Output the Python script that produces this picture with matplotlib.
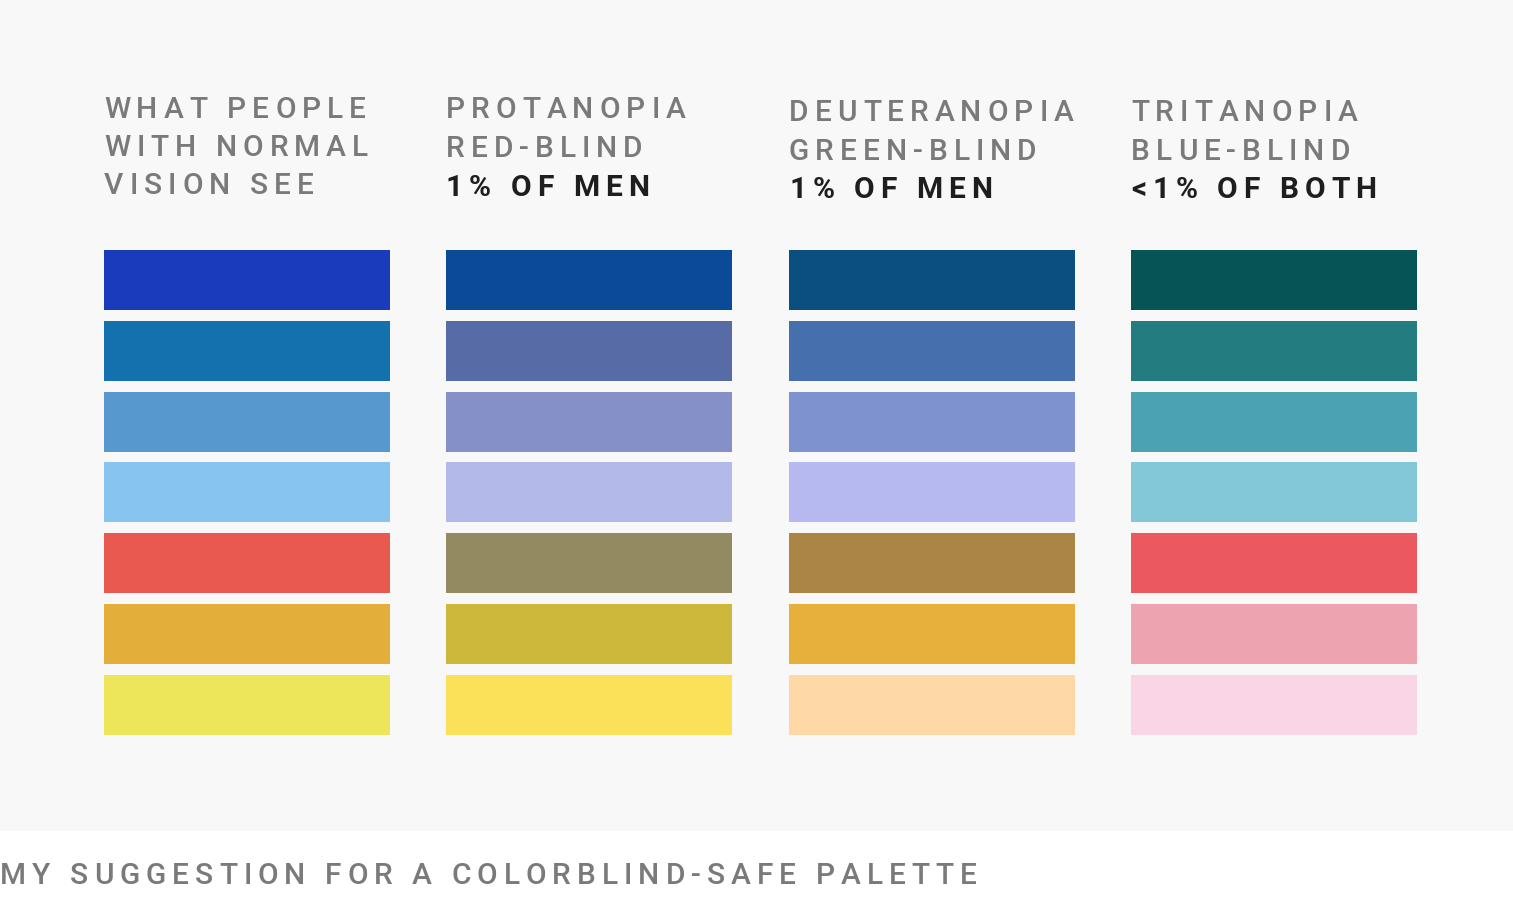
import matplotlib
matplotlib.use("Agg")
import matplotlib.pyplot as plt
from matplotlib.patches import Rectangle

W, H = 1513, 904

headers = [
    ["WHAT PEOPLE", "WITH NORMAL", "VISION SEE"],
    ["PROTANOPIA", "RED-BLIND", "1% OF MEN"],
    ["DEUTERANOPIA", "GREEN-BLIND", "1% OF MEN"],
    ["TRITANOPIA", "BLUE-BLIND", "<1% OF BOTH"],
]
bold_last = [False, True, True, True]
palettes = [
    ["#1b3bbd", "#1471ae", "#5799cf", "#88c4f0", "#e9594f", "#e3ae3a", "#ede55a"],
    ["#0a4a97", "#576ca6", "#8690c8", "#b3baea", "#948a62", "#cdb83c", "#fbe15a"],
    ["#0a4f80", "#466fae", "#7e92cf", "#b6b8f0", "#aa8545", "#e6b03a", "#fed9a7"],
    ["#075457", "#227c80", "#4aa2b2", "#82c8d8", "#ec5860", "#eea4b0", "#f9d5e6"],
]
footer = "MY SUGGESTION FOR A COLORBLIND-SAFE PALETTE"

col_x = [104, 446, 789, 1131]
head_y = [[110, 148, 186], [110, 149, 188], [113, 152, 190], [113, 152, 190]]

fig = plt.figure(figsize=(W / 100, H / 100), dpi=100)
fig.patch.set_facecolor("white")
ax = fig.add_axes([0, 0, 1, 1])
ax.set_xlim(0, W)
ax.set_ylim(H, 0)
ax.axis("off")
ax.add_patch(Rectangle((0, 0), W, 832, color="#f8f8f8", lw=0))

renderer = fig.canvas.get_renderer()


def spaced(x, y, s, size=21.5, weight="medium", color="#7a7a7a", track=6.0):
    # matplotlib has no letter spacing, so place each character
    for ch in s:
        t = ax.text(x, y, ch, fontsize=size, fontweight=weight, color=color,
                    family="Roboto", va="center", ha="left")
        if ch == " ":
            w = size * 0.35
        else:
            w = t.get_window_extent(renderer).width
        x += w + track


for i, lines in enumerate(headers):
    for j, line in enumerate(lines):
        isbold = bold_last[i] and j == 2
        spaced(col_x[i], head_y[i][j], line,
               weight="bold" if isbold else "medium",
               color="#1e1e1e" if isbold else "#7a7a7a")
    for k, c in enumerate(palettes[i]):
        ax.add_patch(Rectangle((col_x[i], 251 + k * 70.8), 286, 60, color=c, lw=0))

spaced(0, 876, footer)

fig.savefig("out.png", dpi=100, facecolor=fig.get_facecolor())
